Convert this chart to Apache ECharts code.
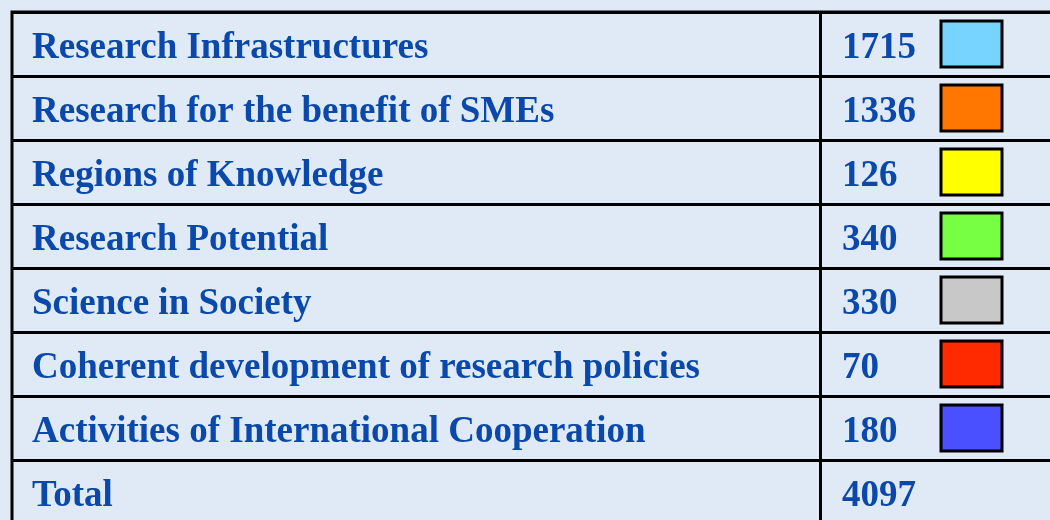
<!DOCTYPE html>
<html>
<head>
<meta charset="utf-8">
<script src="https://cdn.jsdelivr.net/npm/echarts@6/dist/echarts.min.js"></script>
<style>
  html, body { margin: 0; padding: 0; background: #dfeaf6; }
  #chart { width: 1050px; height: 520px; }
</style>
</head>
<body>
<div id="chart"></div>
<script>
// rows of the table
const categories = [
  'Research Infrastructures',
  'Research for the benefit of SMEs',
  'Regions of Knowledge',
  'Research Potential',
  'Science in Society',
  'Coherent development of research policies',
  'Activities of International Cooperation'
]
const values = [1715, 1336, 126, 340, 330, 70, 180]
const swatchColors = ['#77d4ff', '#ff7700', '#ffff00', '#77ff44', '#c8c8c8', '#ff2a00', '#4a50ff']
const totalLabel = 'Total'
const totalValue = 4097

const rowNames = categories.concat([totalLabel])
const rowValues = values.concat([totalValue])

const chart = echarts.init(document.getElementById('chart'))

const textFont = 'bold 37px "Liberation Serif", "DejaVu Serif", serif'
const textColor = '#0a49ab'

const option = {
  backgroundColor: '#dfeaf6',
  animation: false,
  grid: {
    left: 12,
    top: 12,
    width: 1100,
    height: 512,
    outerBoundsMode: 'none',
    show: true,
    borderColor: '#000',
    borderWidth: 3,
    backgroundColor: 'transparent'
  },
  xAxis: {
    type: 'value',
    min: 0,
    max: 1100,
    show: false
  },
  yAxis: {
    type: 'category',
    inverse: true,
    data: rowNames,
    axisLine: { show: false },
    axisTick: { show: false },
    axisLabel: { show: false },
    splitLine: { show: true, lineStyle: { color: '#000', width: 3 } }
  },
  series: [
    {
      type: 'custom',
      data: rowNames.map((n, i) => [i, rowValues[i]]),
      renderItem: (params, api) => {
        const i = api.value(0)
        const nameP = api.coord([20, i])
        const numP = api.coord([830, i])
        const sw0 = api.coord([929, i])
        const bandH = api.size([0, 1])[1]
        const children = [
          {
            type: 'text',
            style: {
              text: rowNames[i],
              x: nameP[0],
              y: nameP[1] + 4,
              font: textFont,
              fill: textColor,
              verticalAlign: 'middle'
            }
          },
          {
            type: 'text',
            style: {
              text: String(rowValues[i]),
              x: numP[0],
              y: numP[1] + 4,
              font: textFont,
              fill: textColor,
              verticalAlign: 'middle'
            }
          }
        ]
        if (i < swatchColors.length) {
          const h = bandH - 18
          children.push({
            type: 'rect',
            shape: { x: sw0[0], y: sw0[1] - h / 2, width: 61, height: h },
            style: { fill: swatchColors[i], stroke: '#000', lineWidth: 3 }
          })
        }
        return { type: 'group', children: children }
      },
      markLine: {
        silent: true,
        symbol: 'none',
        label: { show: false },
        lineStyle: { color: '#000', width: 3, type: 'solid' },
        data: [{ xAxis: 808 }]
      }
    }
  ]
}

chart.setOption(option)
</script>
</body>
</html>
